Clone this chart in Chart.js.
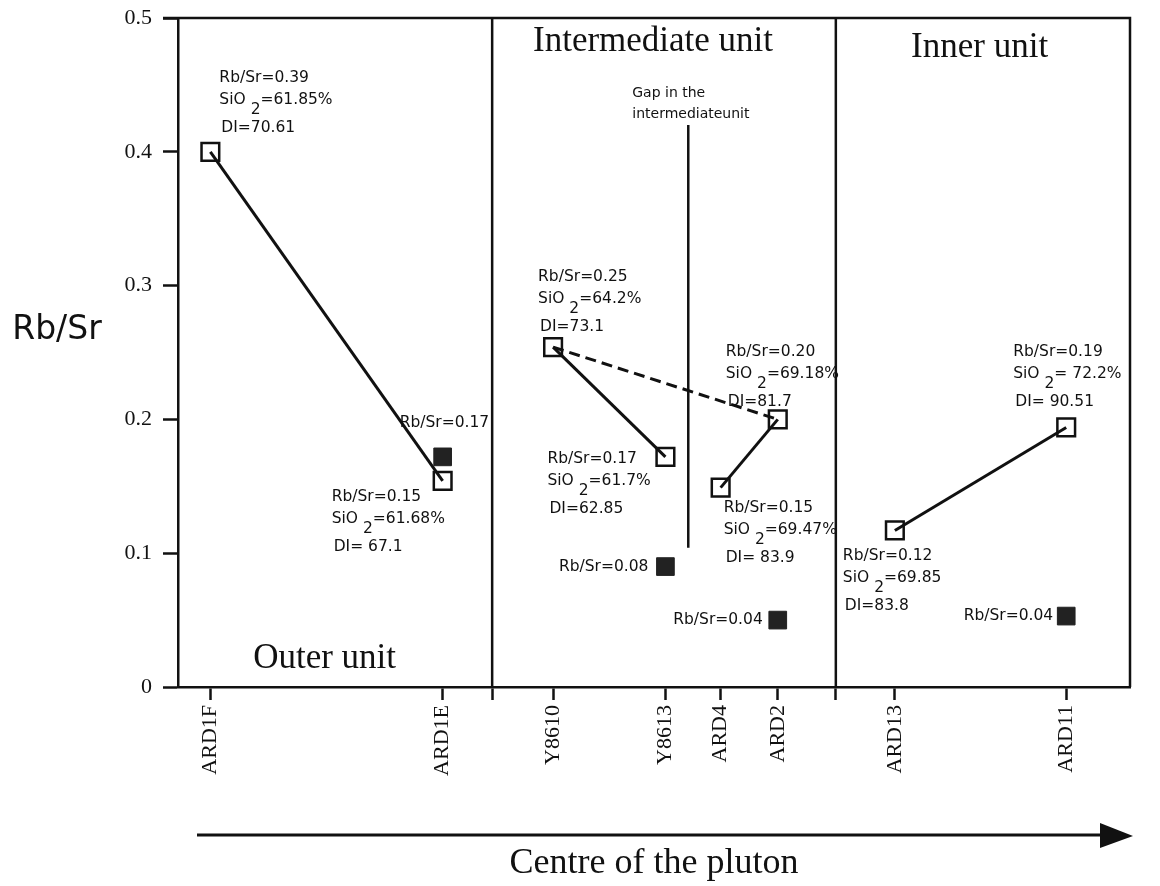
<!DOCTYPE html>
<html>
<head>
<meta charset="utf-8">
<script src="https://cdn.jsdelivr.net/npm/chart.js@4.4.1/dist/chart.umd.min.js"></script>
<style>
  body { margin: 0; background: #fff; }
  #wrap { width: 1160px; height: 886px; }
</style>
</head>
<body>
<div id="wrap"><canvas id="plot" width="1160" height="886"></canvas></div>
<script>
// samples ordered from the margin towards the centre of the pluton
const samples = ['ARD1F', 'ARD1E', 'Y8610', 'Y8613', 'ARD4', 'ARD2', 'ARD13', 'ARD11'];
const samplePos = [3.4, 27.8, 39.4, 51.2, 57.0, 63.0, 75.3, 93.3];
const unitBounds = [33.0, 69.1];

// Rb/Sr (open squares)
const rbsr = [0.400, 0.154, 0.254, 0.172, 0.149, 0.200, 0.117, 0.194];
// second set (filled squares)
const filledSamples = ['ARD1E', 'Y8613', 'ARD2', 'ARD11'];
const filledValues = [0.172, 0.090, 0.050, 0.053];
const filledText = ['0.17', '0.08', '0.04', '0.04'];

// text printed next to each open square
const rbsrText = ['0.39', '0.15', '0.25', '0.17', '0.15', '0.20', '0.12', '0.19'];
const sio2Text = ['61.85%', '61.68%', '64.2%', '61.7%', '69.47%', '69.18%', '69.85', ' 72.2%'];
const diText = ['70.61', ' 67.1', '73.1', '62.85', ' 83.9', '81.7', '83.8', ' 90.51'];

const solidLinks = [['ARD1F', 'ARD1E'], ['Y8610', 'Y8613'], ['ARD4', 'ARD2'], ['ARD13', 'ARD11']];
const dashedLinks = [['Y8610', 'ARD2']];

const gapPos = 53.6;
const gapRange = [0.104, 0.42];

const yTicks = [0, 0.1, 0.2, 0.3, 0.4, 0.5];

function pt(name, val) {
  const i = samples.indexOf(name);
  return { x: samplePos[i], y: val === undefined ? rbsr[i] : val };
}

const datasets = [];

unitBounds.forEach(b => {
  datasets.push({
    data: [{ x: b, y: 0 }, { x: b, y: 0.5 }],
    borderColor: '#111', borderWidth: 2.5, pointRadius: 0
  });
});

datasets.push({
  data: [{ x: gapPos, y: gapRange[0] }, { x: gapPos, y: gapRange[1] }],
  borderColor: '#111', borderWidth: 2.5, pointRadius: 0
});

dashedLinks.forEach(l => {
  datasets.push({
    data: [pt(l[0]), pt(l[1])],
    borderColor: '#111', borderWidth: 3, borderDash: [11, 6], pointRadius: 0
  });
});

solidLinks.forEach(l => {
  datasets.push({
    data: [pt(l[0]), pt(l[1])],
    borderColor: '#111', borderWidth: 3,
    pointStyle: 'rect', pointRadius: 12.5,
    pointBorderWidth: 2.5, pointBorderColor: '#111',
    pointBackgroundColor: 'rgba(0,0,0,0)'
  });
});

datasets.push({
  data: filledSamples.map((s, i) => pt(s, filledValues[i])),
  showLine: false,
  pointStyle: 'rect', pointRadius: 12.5,
  pointBorderWidth: 1, pointBorderColor: '#222',
  pointBackgroundColor: '#222'
});

// label placement next to the squares (pixels from the point)
const blockOffsets = {
  ARD1F: [9, -74], ARD1E: [-111, 16], Y8610: [-15, -70], Y8613: [-118, 2],
  ARD4: [3, 20], ARD2: [-52, -67], ARD13: [-52, 26], ARD11: [-53, -75]
};
const filledOffsets = [[-43, -34, 'left'], [-17, 0, 'right'], [-15, 0, 'right'], [-13, 0, 'right']];

const unitLabels = [
  { text: 'Outer unit', x: 15.4, y: 0.021 },
  { text: 'Intermediate unit', x: 49.9, y: 0.482 },
  { text: 'Inner unit', x: 84.2, y: 0.478 }
];

const SANS = '15.5px "DejaVu Sans"';

const extras = {
  id: 'extras',
  beforeDatasetsDraw(chart) {
    const { ctx, chartArea: a } = chart;
    ctx.save();
    ctx.strokeStyle = '#111';
    ctx.lineWidth = 2.5;
    ctx.beginPath();
    ctx.moveTo(a.left - 15, a.top);
    ctx.lineTo(a.right, a.top);
    ctx.lineTo(a.right, a.bottom);
    ctx.stroke();
    ctx.restore();
  },
  afterDatasetsDraw(chart) {
    const { ctx } = chart;
    const xs = chart.scales.x, ys = chart.scales.y;
    ctx.save();
    ctx.fillStyle = '#111';
    ctx.textBaseline = 'middle';

    // info blocks
    ctx.font = SANS;
    samples.forEach((s, i) => {
      const px = xs.getPixelForValue(samplePos[i]) + blockOffsets[s][0];
      const py = ys.getPixelForValue(rbsr[i]) + blockOffsets[s][1];
      ctx.textAlign = 'left';
      ctx.fillText('Rb/Sr=' + rbsrText[i], px, py);
      let w = ctx.measureText('SiO ').width;
      ctx.fillText('SiO', px, py + 22);
      ctx.fillText('2', px + w, py + 32);
      w += ctx.measureText('2').width;
      ctx.fillText('=' + sio2Text[i], px + w, py + 22);
      ctx.fillText('DI=' + diText[i], px + 2, py + 50);
    });

    // filled square labels
    filledSamples.forEach((s, i) => {
      const o = filledOffsets[i];
      const px = xs.getPixelForValue(samplePos[samples.indexOf(s)]) + o[0];
      const py = ys.getPixelForValue(filledValues[i]) + o[1];
      ctx.textAlign = o[2];
      ctx.fillText('Rb/Sr=' + filledText[i], px, py);
    });

    // gap note
    ctx.font = '14px "DejaVu Sans"';
    ctx.textAlign = 'left';
    const gx = xs.getPixelForValue(gapPos) - 56;
    const gy = ys.getPixelForValue(gapRange[1]);
    ctx.fillText('Gap in the', gx, gy - 32);
    ctx.fillText('intermediateunit', gx, gy - 11);

    // unit names
    ctx.font = '35px "Liberation Serif"';
    ctx.textAlign = 'center';
    unitLabels.forEach(u => {
      ctx.fillText(u.text, xs.getPixelForValue(u.x), ys.getPixelForValue(u.y));
    });

    // y title, horizontal
    ctx.font = '33px "DejaVu Sans"';
    ctx.fillText('Rb/Sr', 57, 330);

    // arrow towards the centre
    const ay = 835;
    ctx.strokeStyle = '#111';
    ctx.lineWidth = 3;
    ctx.beginPath();
    ctx.moveTo(197, ay);
    ctx.lineTo(1105, ay);
    ctx.stroke();
    ctx.beginPath();
    ctx.moveTo(1133, ay + 1);
    ctx.lineTo(1100, ay - 12);
    ctx.lineTo(1100, ay + 13);
    ctx.closePath();
    ctx.fill();
    ctx.restore();
  }
};

new Chart(document.getElementById('plot'), {
  type: 'line',
  data: { datasets: datasets },
  plugins: [extras],
  options: {
    responsive: false,
    animation: false,
    layout: { padding: { top: 18, right: 30, left: 0, bottom: 0 } },
    plugins: { legend: { display: false }, tooltip: { enabled: false } },
    scales: {
      x: {
        type: 'linear',
        min: 0, max: 100,
        afterFit: s => { s.height = 199; s.paddingLeft = 0; s.paddingRight = 0; },
        afterBuildTicks: s => {
          s.ticks = samplePos.concat(unitBounds).sort((a, b) => a - b).map(v => ({ value: v }));
        },
        grid: { drawOnChartArea: false, drawTicks: true, tickLength: 13, tickWidth: 2.5, tickColor: '#111' },
        border: { display: true, color: '#111', width: 2.5 },
        ticks: {
          autoSkip: false, minRotation: 90, maxRotation: 90, padding: 5,
          color: '#111',
          font: { family: 'Liberation Serif', size: 22 },
          callback: v => {
            const i = samplePos.indexOf(v);
            return i >= 0 ? samples[i] : '';
          }
        },
        title: {
          display: true,
          text: 'Centre of the pluton',
          color: '#111',
          font: { family: 'Liberation Serif', size: 36 },
          padding: { top: 0, bottom: 1 }
        }
      },
      y: {
        min: 0, max: 0.5,
        afterFit: s => { s.width = 178; s.paddingTop = 0; s.paddingBottom = 0; },
        afterBuildTicks: s => { s.ticks = yTicks.map(v => ({ value: v })); },
        grid: { drawOnChartArea: false, drawTicks: true, tickLength: 15, tickWidth: 2.5, tickColor: '#111' },
        border: { display: true, color: '#111', width: 2.5 },
        ticks: {
          padding: 11,
          color: '#111',
          font: { family: 'Liberation Serif', size: 22 },
          callback: v => v === 0 ? '0' : v.toFixed(1)
        }
      }
    }
  }
});
</script>
</body>
</html>
